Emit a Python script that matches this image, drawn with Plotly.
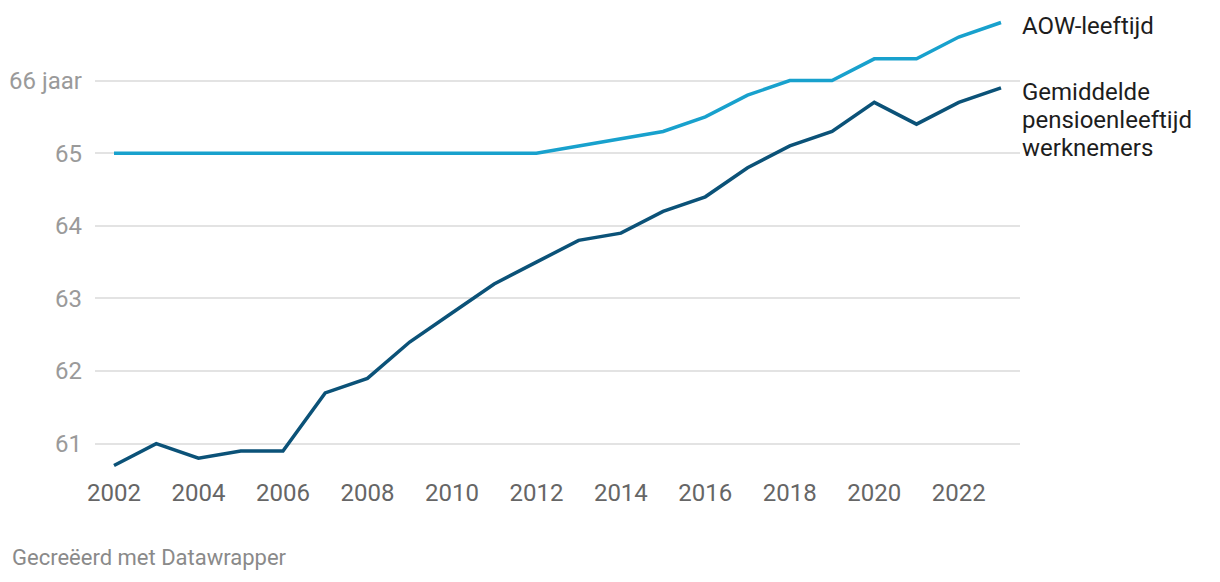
import plotly.graph_objects as go

years = list(range(2002, 2024))
aow = [65.0, 65.0, 65.0, 65.0, 65.0, 65.0, 65.0, 65.0, 65.0, 65.0, 65.0,
       65.1, 65.2, 65.3, 65.5, 65.8, 66.0, 66.0, 66.3, 66.3, 66.6, 66.8]
pensioen = [60.7, 61.0, 60.8, 60.9, 60.9, 61.7, 61.9, 62.4, 62.8, 63.2, 63.5,
            63.8, 63.9, 64.2, 64.4, 64.8, 65.1, 65.3, 65.7, 65.4, 65.7, 65.9]
y_ticks = [61, 62, 63, 64, 65, 66]
y_labels = ["61", "62", "63", "64", "65", "66 jaar"]
x_ticks = list(range(2002, 2024, 2))
label_aow = ["AOW-leeftijd"]
label_pensioen = ["Gemiddelde", "pensioenleeftijd", "werknemers"]

FONT = "Roboto"
W, H = 1204, 566
L, T = 87, 0
PW, PH = 925, 472.4
fig = go.Figure()
fig.add_trace(go.Scatter(x=years, y=aow, mode="lines",
                         line=dict(color="#18a1cd", width=3.5), hoverinfo="skip"))
fig.add_trace(go.Scatter(x=years, y=pensioen, mode="lines",
                         line=dict(color="#0b5278", width=3.5), hoverinfo="skip"))

fig.update_layout(
    width=W, height=H,
    margin=dict(l=L, r=W - L - PW, t=T, b=H - T - PH, pad=0),
    plot_bgcolor="white", paper_bgcolor="white",
    showlegend=False,
    font=dict(family=FONT),
    xaxis=dict(range=[2001.55, 2023.45], tickvals=x_ticks, ticktext=[str(v) for v in x_ticks],
               showgrid=False, zeroline=False, showline=False, ticks="",
               ticklabelstandoff=-4,
               tickfont=dict(size=24, color="#666666", family=FONT)),
    yaxis=dict(range=[60.5, 67.0], tickvals=y_ticks, ticktext=y_labels,
               showgrid=True, gridcolor="#e3e3e3", gridwidth=1.5, zeroline=False,
               ticks="", ticklabelstandoff=12,
               tickfont=dict(size=24, color="#9a9a9a", family=FONT)),
)

fig.add_annotation(xref="paper", yref="y", x=1.0, y=aow[-1], xanchor="left", yanchor="middle",
                   yshift=-3, text=label_aow[0], showarrow=False, align="left",
                   font=dict(size=24, color="#1d1d1d", family=FONT))
for i, line in enumerate(label_pensioen):
    fig.add_annotation(xref="paper", yref="y", x=1.0, y=pensioen[-1], xanchor="left",
                       yanchor="middle", yshift=-4 - 28 * i, text=line, showarrow=False,
                       align="left", font=dict(size=24, color="#1d1d1d", family=FONT))
fig.add_annotation(xref="paper", yref="paper", x=(2 - L) / PW, y=-(550 - PH) / PH,
                   xanchor="left", yanchor="middle",
                   text="Gecreëerd met Datawrapper", showarrow=False,
                   font=dict(size=22, color="#8a8a8a", family=FONT))

fig.write_html("out.html")
